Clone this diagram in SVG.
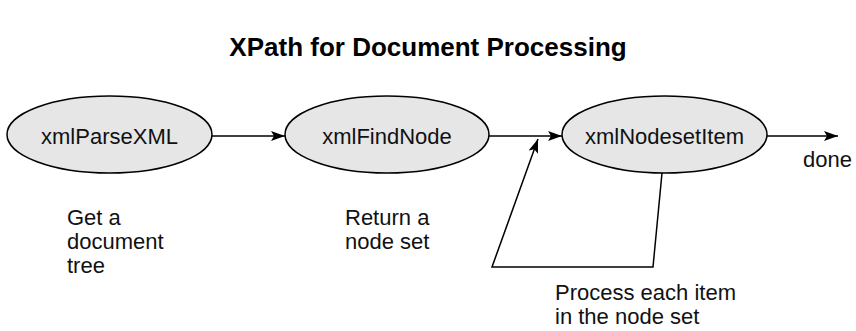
<svg xmlns="http://www.w3.org/2000/svg" width="856" height="331" viewBox="0 0 856 331">
<style>
.node{fill:#e6e6e6;stroke:#000;stroke-width:1.5}
.lbl{font-family:"Liberation Sans",Arial,sans-serif;font-size:22px;fill:#111}
.ctr{text-anchor:middle}
.title{font-family:"Liberation Sans",Arial,sans-serif;font-size:26px;font-weight:bold;text-anchor:middle;fill:#000}
.conn{fill:none;stroke:#000;stroke-width:1.5}
</style>
<defs>
<marker id="arr" viewBox="0 0 14 10" refX="14" refY="5" markerWidth="14" markerHeight="10" markerUnits="userSpaceOnUse" orient="auto">
<path d="M0,0 L14,5 L0,10 L3,5 Z" fill="#000"/>
</marker>
</defs>
<rect width="856" height="331" fill="#fff"/>
<text class="title" x="428" y="56">XPath for Document Processing</text>
<g id="n1">
<ellipse class="node" cx="109.5" cy="134.5" rx="102.5" ry="38.5"/>
<text class="lbl ctr" x="109.5" y="144">xmlParseXML</text>
</g>
<g id="n2">
<ellipse class="node" cx="387" cy="134.5" rx="102" ry="38.5"/>
<text class="lbl ctr" x="387" y="144">xmlFindNode</text>
</g>
<g id="n3">
<ellipse class="node" cx="664.5" cy="134.5" rx="102.5" ry="38.5"/>
<text class="lbl ctr" x="664.5" y="144">xmlNodesetItem</text>
</g>
<g id="connectors">
<line class="conn" x1="212" y1="136" x2="285" y2="136" marker-end="url(#arr)"/>
<line class="conn" x1="489" y1="136" x2="562" y2="136" marker-end="url(#arr)"/>
<line class="conn" x1="767" y1="136" x2="838" y2="136" marker-end="url(#arr)"/>
<polyline class="conn" points="662,173 653,267 492,267 538,139" marker-end="url(#arr)"/>
</g>
<text class="lbl" x="803" y="167">done</text>
<text class="lbl" x="67" y="225">Get a</text>
<text class="lbl" x="67" y="249">document</text>
<text class="lbl" x="67" y="273">tree</text>
<text class="lbl" x="345" y="225">Return a</text>
<text class="lbl" x="345" y="249">node set</text>
<text class="lbl" x="555" y="300">Process each item</text>
<text class="lbl" x="555" y="324">in the node set</text>
</svg>
